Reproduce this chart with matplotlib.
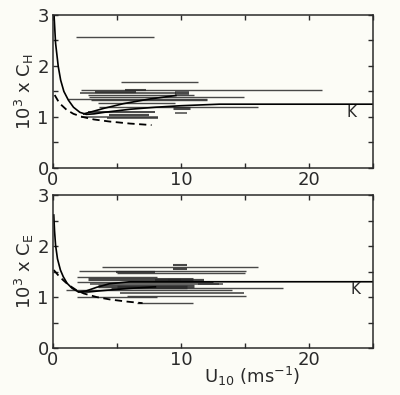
import matplotlib
matplotlib.use("Agg")
import matplotlib.pyplot as plt
from matplotlib.ticker import MultipleLocator

# ---- data (U10 ranges in m/s, coefficient x 10^3) ----
# heat (C_H): horizontal bars = U10 range of each experiment
ch_lo = [1.8, 5.3, 2.2, 5.6, 2.1, 3.3, 9.5, 2.7, 2.8, 1.2, 3.0, 3.5, 3.6, 9.4, 9.5, 2.7, 2.2, 4.2, 4.4]
ch_hi = [7.9, 11.3, 21.0, 7.3, 9.6, 6.5, 10.6, 11.0, 14.9, 12.0, 12.0, 9.5, 16.0, 10.7, 10.5, 8.0, 8.2, 8.2, 7.5]
ch_val = [2.57, 1.69, 1.52, 1.53, 1.47, 1.48, 1.46, 1.43, 1.40, 1.35, 1.33, 1.28, 1.20, 1.18, 1.08, 1.09, 1.00, 0.97, 1.03]
ch_lw = [1.0, 1.0, 1.0, 1.5, 1.2, 1.6, 2.6, 1.0, 1.0, 1.0, 1.0, 1.0, 1.0, 2.2, 1.1, 1.4, 1.1, 1.2, 1.6]

# evaporation (C_E)
ce_lo = [3.8, 9.4, 9.4, 2.0, 4.9, 5.0, 1.9, 2.7, 9.0, 1.9, 2.9, 3.5, 5.0, 4.5, 1.0, 5.2, 5.8, 1.9, 6.6, 8.0, 11.3]
ce_hi = [16.0, 10.5, 10.5, 15.1, 8.0, 15.0, 8.1, 10.9, 10.0, 12.5, 13.0, 11.0, 10.5, 18.0, 14.0, 14.9, 15.1, 8.1, 10.9, 11.8, 13.3]
ce_val = [1.59, 1.62, 1.56, 1.52, 1.49, 1.48, 1.39, 1.35, 1.34, 1.30, 1.25, 1.22, 1.20, 1.17, 1.14, 1.08, 1.03, 1.00, 0.88, 1.33, 1.25]
ce_lw = [1.0, 1.5, 1.5, 1.0, 1.6, 1.0, 1.0, 2.2, 1.5, 1.0, 1.1, 2.5, 2.5, 1.0, 1.0, 1.2, 1.0, 1.0, 1.0, 1.6, 1.1]

# model curves
ch_curve_u = [0.08, 0.2, 0.41, 0.6, 0.85, 1.2, 1.6, 2.1, 2.6, 3.2, 4.0, 6.0, 8.0, 10.0, 13.0, 25.0]
ch_curve_c = [3.0, 2.45, 1.99, 1.72, 1.50, 1.33, 1.19, 1.09, 1.05, 1.06, 1.09, 1.15, 1.19, 1.22, 1.25, 1.25]
ch_branch_u = [2.4, 3.0, 4.0, 5.5, 7.5, 9.6]
ch_branch_c = [1.06, 1.10, 1.17, 1.26, 1.35, 1.42]
ch_dash_u = [0.13, 0.5, 1.06, 1.6, 2.3, 3.2, 4.4, 6.0, 7.7]
ch_dash_c = [1.43, 1.27, 1.14, 1.06, 1.00, 0.95, 0.91, 0.87, 0.84]

ce_curve_u = [0.06, 0.12, 0.2, 0.35, 0.58, 0.8, 1.1, 1.5, 2.0, 2.6, 3.4, 4.4, 6.0, 25.0]
ce_curve_c = [2.61, 2.3, 2.02, 1.75, 1.53, 1.40, 1.27, 1.17, 1.10, 1.12, 1.19, 1.26, 1.30, 1.30]
ce_branch_u = [2.0, 2.8, 3.6, 4.5, 6.0, 8.0]
ce_branch_c = [1.10, 1.10, 1.12, 1.14, 1.17, 1.20]
ce_dash_u = [0.06, 0.4, 0.8, 1.2, 1.8, 2.4, 3.4, 4.5, 5.8, 7.0]
ce_dash_c = [1.53, 1.43, 1.33, 1.24, 1.14, 1.07, 1.00, 0.95, 0.91, 0.88]

INK = "#2a2a2a"
PAPER = "#fcfcf6"
FONT = "DejaVu Sans"

fig = plt.figure(figsize=(4.0, 3.95), dpi=100)
fig.patch.set_facecolor(PAPER)
ax1 = fig.add_axes([0.1325, 0.575, 0.80, 0.387])
ax2 = fig.add_axes([0.1325, 0.119, 0.80, 0.387])

panels = [
    (ax1, ch_lo, ch_hi, ch_val, ch_lw, ch_curve_u, ch_curve_c, ch_branch_u, ch_branch_c,
     ch_dash_u, ch_dash_c, r"$\mathregular{10^3\ x\ C_H}$", (23.3, 1.08)),
    (ax2, ce_lo, ce_hi, ce_val, ce_lw, ce_curve_u, ce_curve_c, ce_branch_u, ce_branch_c,
     ce_dash_u, ce_dash_c, r"$\mathregular{10^3\ x\ C_E}$", (23.6, 1.15)),
]

for ax, lo, hi, val, lw, cu, cc, bu, bc, du, dc, ylab, kpos in panels:
    ax.set_facecolor(PAPER)
    ax.hlines(val, lo, hi, colors=INK, linewidths=lw, alpha=0.85)
    ax.plot(cu, cc, color="black", lw=1.2)
    ax.plot(bu, bc, color="black", lw=1.2)
    ax.plot(du, dc, color="black", lw=1.3, ls=(0, (4, 2.5)))
    ax.text(kpos[0], kpos[1], "K", fontsize=11, color=INK, family=FONT,
            ha="center", va="center")
    ax.set_xlim(0, 25)
    ax.set_ylim(0, 3)
    ax.xaxis.set_major_locator(MultipleLocator(10))
    ax.xaxis.set_minor_locator(MultipleLocator(5))
    ax.yaxis.set_major_locator(MultipleLocator(1))
    ax.yaxis.set_minor_locator(MultipleLocator(0.5))
    ax.tick_params(which="both", direction="in", top=True, right=True,
                   length=3.5, width=1.0, color=INK)
    ax.tick_params(axis="x", which="major", labelsize=13, pad=2, labelcolor=INK)
    ax.tick_params(axis="y", which="major", labelsize=13, pad=3, labelcolor=INK)
    for lab in ax.get_xticklabels() + ax.get_yticklabels():
        lab.set_family(FONT)
    for s in ax.spines.values():
        s.set_linewidth(1.1)
        s.set_color(INK)
    ax.set_ylabel(ylab, fontsize=13, color=INK, labelpad=1)

fig.text(252 / 400, 1 - 376 / 395, r"$\mathregular{U_{10}\ (ms^{-1})}$",
         fontsize=13, color=INK, ha="center", va="center")

fig.savefig("out.png", facecolor=PAPER)
